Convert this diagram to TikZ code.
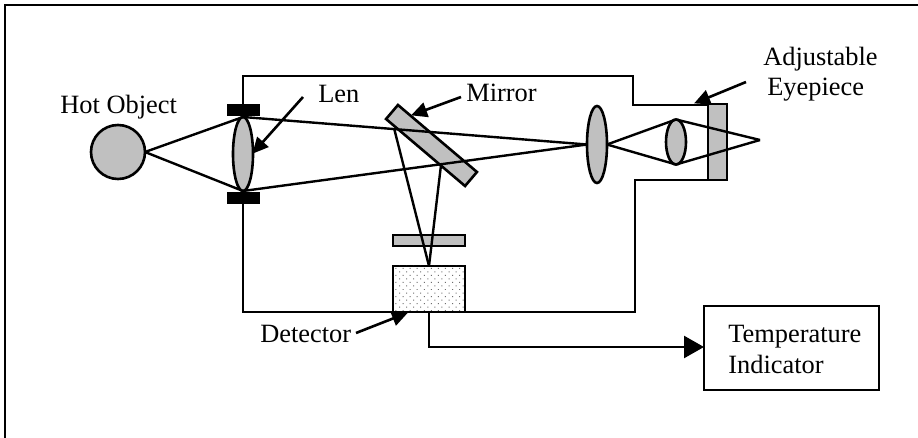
\documentclass[tikz,border=0pt]{standalone}
\usepackage{fontspec}
\setmainfont{Liberation Serif}
\usepackage{xcolor}
\usepackage{tikz}
\usetikzlibrary{positioning,calc,arrows.meta,shapes.geometric,patterns.meta}
\definecolor{lensgray}{RGB}{192,192,192}
\definecolor{dotgray}{RGB}{110,110,110}

\begin{document}
\begin{tikzpicture}[x=1pt, y=-1pt, line width=2.6pt,
  lens/.style={draw, fill=lensgray, ellipse, inner sep=0pt, outer sep=0pt},
  plate/.style={draw, fill=lensgray, rectangle, inner sep=0pt, outer sep=0pt},
  stopbar/.style={fill=black, rectangle, inner sep=0pt, outer sep=0pt, minimum width=33pt, minimum height=12pt},
  label/.style={anchor=base west, inner sep=0pt, font=\fontsize{26.4}{31}\selectfont},
  pointer/.style={-{Triangle[length=16pt,width=15pt]}, line width=2.6pt, shorten >=-1pt},
  ray/.style={line width=2.4pt}]
\useasboundingbox (0,0) rectangle (918,438);
\fill[white] (0,0) rectangle (918,438);
% outer frame
\coordinate (framea) at (5,438);
\coordinate (frameb) at (5,5);
\coordinate (framec) at (918,5);
\draw[line width=2.4pt] (framea) -- (frameb) -- (framec);
% optics
\node[lens, minimum size=54pt, circle] (hot) at (118,152) {};
\node[lens, minimum width=20pt, minimum height=74pt] (lensa) at (243,154) {};
\node[lens, minimum width=20pt, minimum height=77pt] (lensb) at (597,144.5) {};
\node[lens, minimum width=20pt, minimum height=45pt] (lensc) at (676,142) {};
\node[plate, minimum width=103.6pt, minimum height=18.4pt, rotate=-40.3] (mirror) at (431.5,145.5) {};
\node[plate, minimum width=72pt, minimum height=11pt] (filter) at (429,240.5) {};
\node[plate, minimum width=19pt, minimum height=76pt] (eyepiece) at (717.5,142) {};
\node[draw, rectangle, inner sep=0pt, outer sep=0pt, minimum width=72pt, minimum height=46pt, fill=white, postaction={pattern={Dots[distance=5pt,radius=0.7pt,angle=45]}, pattern color=dotgray}] (detector) at (429,289) {};
\node[stopbar] (stoptop) at (243.5,110.5) {};
\node[stopbar] (stopbot) at (243.5,198) {};
% housing
\coordinate (housea) at (243,105);
\coordinate (houseb) at (243,76);
\coordinate (housec) at (633,76);
\coordinate (housed) at (633,105);
\coordinate (housee) at (708,105);
\coordinate (housef) at (708,180);
\coordinate (houseg) at (635,180);
\coordinate (househ) at (635,312);
\coordinate (housei) at (243,312);
\coordinate (housej) at (243,204);
\draw[line join=miter] (housea) -- (houseb) -- (housec) -- (housed) -- (housee) -- (housef) -- (houseg) -- (househ) -- (housei) -- (housej);
% rays
\coordinate (mirrorl) at (394,128);
\coordinate (mirrorr) at (441,165);
\coordinate (focus) at (760,140);
\draw[ray] (hot.east) -- (lensa.north);
\draw[ray] (hot.east) -- (lensa.south);
\draw[ray] (lensa.north) -- (lensb.west);
\draw[ray] (lensa.south) -- (lensb.west);
\draw[ray] (lensb.east) -- (lensc.north);
\draw[ray] (lensb.east) -- (lensc.south);
\draw[ray] (lensc.north) -- (focus);
\draw[ray] (lensc.south) -- (focus);
\draw[ray] (mirrorl) -- (detector.north);
\draw[ray] (mirrorr) -- (detector.north);
% indicator
\node[draw, rectangle, inner sep=0pt, outer sep=0pt, minimum width=175pt, minimum height=84pt] (indicator) at (791.5,348) {};
\node[label] (indicatora) at (727,342) {Temperature};
\node[label] (indicatorb) at (727,373) {Indicator};
\coordinate (wire) at (429,347);
\draw[-{Triangle[length=20pt,width=22pt]}, line width=2.4pt] (detector.south) -- (wire) -- (indicator.west |- wire);
% labels
\node[label] (hotlabel) at (59,114) {Hot Object};
\node[label] (lenlabel) at (317,103) {Len};
\node[label] (mirrorlabel) at (465,102) {Mirror};
\node[label] (adjlabel) at (762,66) {Adjustable};
\node[label] (eyelabel) at (766,96) {Eyepiece};
\node[label] (detlabel) at (259,342) {Detector};
\coordinate (lenfrom) at (303,97);
\coordinate (lento) at (253,153);
\coordinate (mirrorfrom) at (461,97);
\coordinate (mirrorto) at (412,115);
\coordinate (eyefrom) at (746,82);
\coordinate (eyeto) at (695,103);
\coordinate (detfrom) at (356,333);
\coordinate (detto) at (407,313);
\draw[pointer] (lenfrom) -- (lento);
\draw[pointer] (mirrorfrom) -- (mirrorto);
\draw[pointer] (eyefrom) -- (eyeto);
\draw[pointer] (detfrom) -- (detto);
\end{tikzpicture}
\end{document}
